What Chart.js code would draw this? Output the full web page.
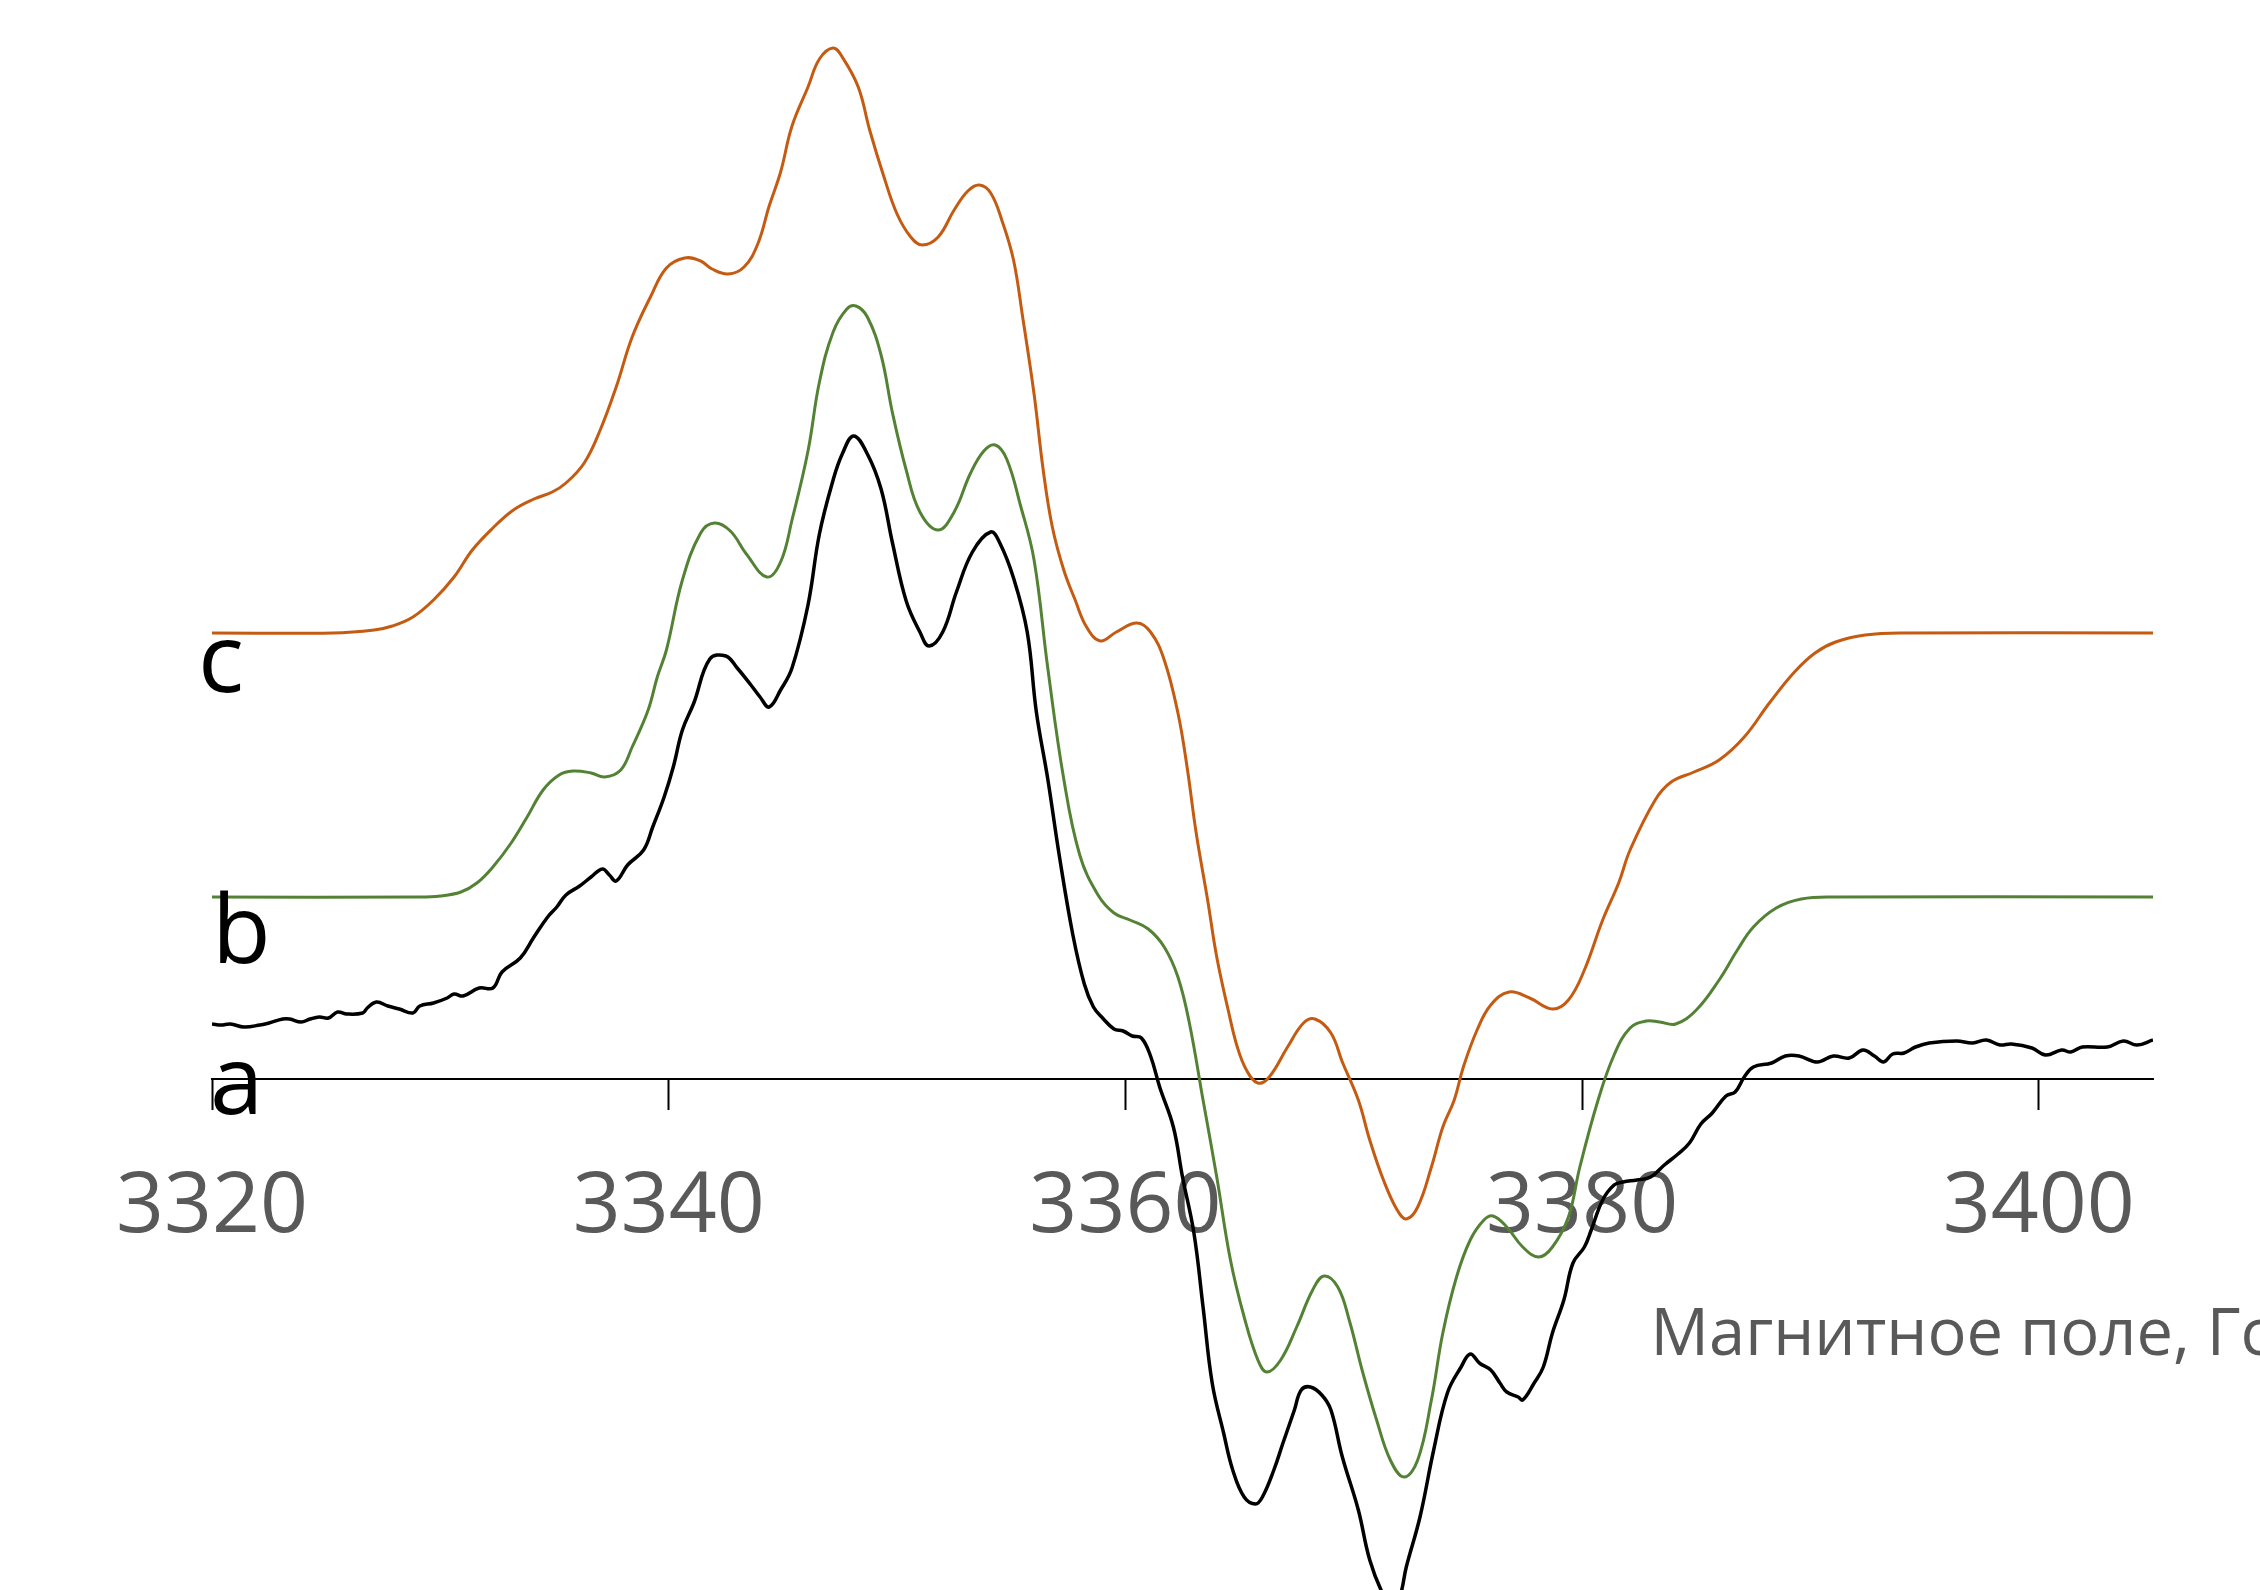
<!DOCTYPE html>
<html>
<head>
<meta charset="utf-8">
<script src="https://cdn.jsdelivr.net/npm/chart.js@4.4.1/dist/chart.umd.min.js"></script>
<style>
  html, body { margin: 0; padding: 0; background: #ffffff; }
  #wrap { width: 2260px; height: 1590px; position: relative; }
</style>
</head>
<body>
<div id="wrap"><canvas id="chart"></canvas></div>
<script>
// Magnetic field, G (x axis ticks)
const tickValues = [3320, 3340, 3360, 3380, 3400];
const seriesNames = ['a', 'b', 'c'];
const axisTitle = 'Магнитное поле, Гс';

// a: experimental spectrum (black)
const fieldA = [3320.0, 3320.4, 3320.8, 3321.4, 3322.1, 3322.5, 3323.1, 3323.4, 3323.9, 3324.3,
  3324.7, 3325.1, 3325.5, 3325.9, 3326.6, 3326.8, 3327.2, 3327.7, 3328.2, 3328.8,
  3329.1, 3329.7, 3330.3, 3330.6, 3331.0, 3331.7, 3332.3, 3332.7, 3333.5, 3334.1,
  3334.7, 3335.1, 3335.5, 3336.1, 3336.6, 3337.1, 3337.4, 3337.7, 3338.2, 3338.9,
  3339.3, 3339.8, 3340.2, 3340.6, 3341.1, 3341.8, 3342.5, 3343.0, 3343.6, 3344.0,
  3344.4, 3344.9, 3345.4, 3346.1, 3346.6, 3347.2, 3347.6, 3348.1, 3348.7, 3349.3,
  3349.8, 3350.4, 3351.0, 3351.4, 3352.0, 3352.6, 3353.3, 3354.1, 3354.5, 3355.1,
  3355.7, 3356.1, 3356.6, 3357.1, 3357.7, 3358.2, 3358.6, 3359.0, 3359.5, 3359.9,
  3360.3, 3360.7, 3361.1, 3361.5, 3362.1, 3362.5, 3363.0, 3363.4, 3363.8, 3364.3,
  3364.7, 3365.2, 3365.7, 3366.0, 3366.5, 3366.9, 3367.4, 3367.7, 3368.1, 3368.6,
  3369.0, 3369.5, 3370.2, 3370.7, 3371.3, 3371.7, 3372.0, 3372.3, 3372.9, 3373.5,
  3374.1, 3374.7, 3375.1, 3375.5, 3376.0, 3376.4, 3376.7, 3377.2, 3377.4, 3377.9,
  3378.3, 3378.7, 3379.2, 3379.6, 3380.1, 3380.4, 3380.9, 3381.4, 3381.8, 3382.4,
  3383.0, 3383.6, 3384.2, 3384.7, 3385.2, 3385.7, 3386.3, 3386.7, 3387.1, 3387.5,
  3388.3, 3388.9, 3389.5, 3390.3, 3391.0, 3391.7, 3392.3, 3392.8, 3393.2, 3393.6,
  3394.1, 3394.6, 3395.2, 3396.4, 3397.1, 3397.7, 3398.3, 3398.8, 3399.7, 3400.3,
  3401.0, 3401.4, 3401.9, 3403.0, 3403.7, 3404.3, 3405.0];
const signalA = [0.55, 0.54, 0.55, 0.52, 0.54, 0.56, 0.60, 0.60, 0.57, 0.60,
  0.62, 0.61, 0.67, 0.65, 0.66, 0.71, 0.77, 0.73, 0.70, 0.66,
  0.73, 0.76, 0.81, 0.85, 0.83, 0.91, 0.91, 1.07, 1.21, 1.42,
  1.62, 1.72, 1.84, 1.93, 2.02, 2.10, 2.04, 1.98, 2.14, 2.29,
  2.52, 2.82, 3.12, 3.49, 3.76, 4.20, 4.23, 4.11, 3.94, 3.82,
  3.72, 3.89, 4.11, 4.74, 5.45, 5.99, 6.25, 6.43, 6.25, 5.90,
  5.36, 4.78, 4.47, 4.33, 4.47, 4.87, 5.27, 5.47, 5.36, 5.01,
  4.47, 3.67, 3.00, 2.24, 1.44, 0.95, 0.72, 0.61, 0.50, 0.48,
  0.43, 0.41, 0.23, -0.08, -0.48, -0.98, -1.54, -2.28, -3.04, -3.54,
  -3.91, -4.18, -4.25, -4.18, -3.91, -3.64, -3.31, -3.11, -3.08, -3.16,
  -3.31, -3.78, -4.31, -4.81, -5.16, -5.26, -5.19, -4.88, -4.38, -3.71,
  -3.14, -2.88, -2.75, -2.84, -2.91, -3.04, -3.13, -3.18, -3.21, -3.04,
  -2.88, -2.54, -2.21, -1.84, -1.68, -1.51, -1.21, -1.06, -1.03, -1.01,
  -0.98, -0.86, -0.75, -0.64, -0.45, -0.34, -0.17, -0.13, 0.02, 0.12,
  0.16, 0.23, 0.23, 0.17, 0.23, 0.21, 0.29, 0.23, 0.17, 0.25,
  0.26, 0.32, 0.36, 0.38, 0.36, 0.39, 0.34, 0.35, 0.31, 0.24,
  0.29, 0.27, 0.32, 0.32, 0.38, 0.34, 0.39];

// b: simulation (green)
const fieldB = [3320.0, 3329.0, 3330.0, 3330.9, 3331.6, 3332.3, 3333.1, 3333.8, 3334.5, 3335.2,
  3335.8, 3336.6, 3337.2, 3337.9, 3338.4, 3339.1, 3339.5, 3339.9, 3340.6, 3341.4,
  3342.0, 3342.7, 3343.4, 3344.3, 3344.9, 3345.4, 3346.1, 3346.6, 3347.2, 3347.8,
  3348.2, 3348.7, 3349.3, 3349.8, 3350.4, 3351.0, 3351.8, 3352.5, 3353.2, 3353.8,
  3354.3, 3354.8, 3355.4, 3356.0, 3356.6, 3357.3, 3358.0, 3358.8, 3359.5, 3360.2,
  3361.0, 3361.7, 3362.3, 3362.8, 3363.4, 3364.0, 3364.6, 3365.2, 3365.8, 3366.2,
  3366.8, 3367.5, 3368.2, 3368.7, 3369.3, 3369.8, 3370.4, 3371.0, 3371.6, 3372.2,
  3372.8, 3373.4, 3373.9, 3374.5, 3375.1, 3375.7, 3376.1, 3376.7, 3377.4, 3378.1,
  3378.7, 3379.4, 3379.9, 3380.7, 3381.4, 3382.1, 3382.8, 3383.4, 3384.1, 3385.0,
  3386.0, 3386.8, 3387.5, 3388.5, 3389.6, 3391.0, 3405.0];
const signalB = [1.82, 1.82, 1.83, 1.87, 1.96, 2.12, 2.36, 2.62, 2.89, 3.04,
  3.08, 3.06, 3.02, 3.09, 3.32, 3.69, 4.02, 4.29, 4.99, 5.46,
  5.56, 5.48, 5.25, 5.02, 5.17, 5.59, 6.28, 6.97, 7.47, 7.70,
  7.73, 7.62, 7.24, 6.66, 6.09, 5.67, 5.49, 5.67, 6.05, 6.28,
  6.34, 6.20, 5.74, 5.19, 4.11, 3.00, 2.24, 1.84, 1.66, 1.59,
  1.50, 1.32, 1.02, 0.56, -0.21, -0.98, -1.81, -2.38, -2.81, -2.93,
  -2.81, -2.48, -2.11, -1.97, -2.08, -2.41, -2.94, -3.41, -3.81, -3.98,
  -3.81, -3.21, -2.54, -1.98, -1.61, -1.41, -1.37, -1.48, -1.68, -1.78,
  -1.68, -1.38, -0.88, -0.21, 0.24, 0.51, 0.58, 0.57, 0.55, 0.69,
  0.99, 1.29, 1.52, 1.71, 1.80, 1.82, 1.82];

// c: simulation (orange)
const fieldC = [3320.0, 3325.3, 3327.1, 3327.9, 3328.8, 3329.7, 3330.6, 3331.4, 3332.3, 3333.2,
  3334.1, 3334.9, 3335.5, 3336.3, 3337.0, 3337.7, 3338.4, 3339.2, 3339.9, 3340.7,
  3341.4, 3341.9, 3342.6, 3343.3, 3343.9, 3344.4, 3344.9, 3345.4, 3346.1, 3346.6,
  3347.2, 3347.6, 3348.3, 3348.8, 3349.4, 3350.0, 3350.6, 3351.1, 3351.8, 3352.5,
  3353.1, 3353.6, 3354.1, 3354.6, 3355.1, 3355.5, 3356.0, 3356.4, 3356.8, 3357.3,
  3357.8, 3358.3, 3358.9, 3359.6, 3360.5, 3361.1, 3361.7, 3362.3, 3362.7, 3363.1,
  3363.6, 3364.0, 3364.5, 3364.9, 3365.3, 3365.8, 3366.3, 3367.1, 3367.8, 3368.3,
  3369.0, 3369.5, 3370.2, 3370.7, 3371.3, 3371.9, 3372.3, 3372.8, 3373.4, 3373.9,
  3374.4, 3374.8, 3375.4, 3376.0, 3376.8, 3377.7, 3378.7, 3379.4, 3380.1, 3380.9,
  3381.6, 3382.1, 3383.2, 3383.9, 3384.9, 3386.0, 3387.1, 3388.2, 3389.3, 3390.2,
  3391.1, 3392.4, 3394.1, 3405.0];
const signalC = [4.46, 4.46, 4.49, 4.53, 4.62, 4.79, 5.02, 5.29, 5.51, 5.69,
  5.80, 5.87, 5.96, 6.16, 6.49, 6.92, 7.42, 7.82, 8.11, 8.21,
  8.18, 8.10, 8.05, 8.12, 8.35, 8.73, 9.07, 9.53, 9.92, 10.20,
  10.31, 10.22, 9.92, 9.49, 9.04, 8.65, 8.42, 8.34, 8.42, 8.69,
  8.88, 8.94, 8.86, 8.58, 8.19, 7.62, 6.85, 6.09, 5.52, 5.09,
  4.79, 4.52, 4.38, 4.47, 4.56, 4.47, 4.19, 3.66, 3.12, 2.46,
  1.79, 1.22, 0.69, 0.32, 0.09, -0.04, 0.02, 0.32, 0.56, 0.60,
  0.46, 0.17, -0.21, -0.61, -1.01, -1.31, -1.40, -1.28, -0.88, -0.48,
  -0.21, 0.12, 0.49, 0.74, 0.87, 0.81, 0.70, 0.79, 1.09, 1.59,
  1.96, 2.29, 2.79, 2.97, 3.07, 3.19, 3.42, 3.76, 4.07, 4.26,
  4.37, 4.44, 4.46, 4.46];

const toPoints = (xs, ys) => xs.slice(0, Math.min(xs.length, ys.length)).map((x, i) => ({ x, y: ys[i] }));

// series letters and the axis title, drawn after the chart
const textPlugin = {
  id: 'spectrumText',
  afterDraw(chart) {
    const { ctx } = chart;
    const xs = chart.scales.x;
    const ys = chart.scales.y;
    const left = xs.getPixelForValue(tickValues[0]);
    ctx.save();
    ctx.fillStyle = '#000000';
    ctx.font = '96px "Open Sans"';
    ctx.textAlign = 'left';
    ctx.textBaseline = 'alphabetic';
    ctx.fillText(seriesNames[2], left - 14, ys.getPixelForValue(signalC[0]) + 59);
    ctx.fillText(seriesNames[1], left, ys.getPixelForValue(signalB[0]) + 66);
    ctx.fillText(seriesNames[0], left - 2, ys.getPixelForValue(0) + 35);

    ctx.fillStyle = '#595959';
    ctx.font = '65px "Open Sans"';
    ctx.fillText(axisTitle, xs.getPixelForValue(3383.0), ys.getPixelForValue(0) + 276);
    ctx.restore();
  }
};

const line = (label, xs, ys, color, width) => ({
  label,
  data: toPoints(xs, ys),
  borderColor: color,
  backgroundColor: color,
  borderWidth: width,
  pointRadius: 0,
  tension: 0.4,
  fill: false
});

const config = {
  type: 'line',
  data: {
    datasets: [
      line('c', fieldC, signalC, '#C55A11', 3),
      line('b', fieldB, signalB, '#548235', 3),
      line('a', fieldA, signalA, '#000000', 3.5)
    ]
  },
  options: {
    responsive: true,
    maintainAspectRatio: false,
    animation: false,
    devicePixelRatio: 1,
    layout: { padding: { left: 212, right: 107, top: 0, bottom: 0 } },
    plugins: {
      legend: { display: false },
      tooltip: { enabled: false }
    },
    scales: {
      x: {
        type: 'linear',
        position: { y: 0 },
        min: 3320,
        max: 3405,
        afterBuildTicks: (scale) => {
          scale.ticks = tickValues.map(v => ({ value: v }));
        },
        grid: {
          drawOnChartArea: false,
          drawTicks: true,
          tickLength: 30,
          tickWidth: 2,
          tickColor: '#000000'
        },
        border: { display: true, color: '#000000', width: 2 },
        ticks: {
          color: '#595959',
          padding: 49,
          maxRotation: 0,
          font: { family: 'Open Sans', size: 84 },
          callback: (v) => String(v)
        }
      },
      y: {
        type: 'linear',
        display: false,
        min: -5.11,
        max: 10.79
      }
    }
  },
  plugins: [textPlugin]
};

new Chart(document.getElementById('chart').getContext('2d'), config);
</script>
</body>
</html>
